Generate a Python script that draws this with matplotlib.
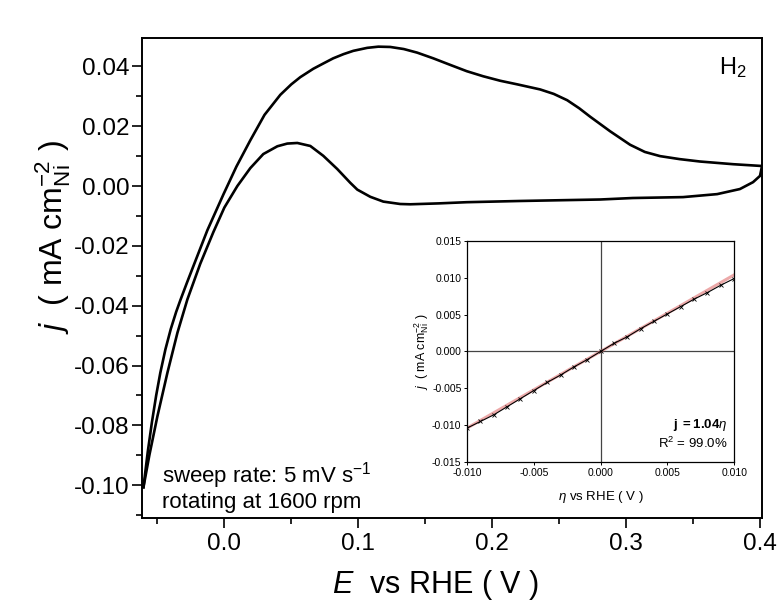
"""Cyclic voltammogram in H2 with a micro-polarisation inset."""

from matplotlib import pyplot as plt
from matplotlib.ticker import MultipleLocator, FuncFormatter
import numpy as np

plt.rcParams["font.family"] = ["Liberation Sans", "DejaVu Sans"]
plt.rcParams["mathtext.fontset"] = "custom"
plt.rcParams["mathtext.rm"] = "Liberation Sans"
plt.rcParams["mathtext.it"] = "Liberation Sans:italic"
plt.rcParams["mathtext.bf"] = "Liberation Sans:bold"

# anodic sweep (outer branch), E in V vs RHE, j in mA cm-2
E_FWD = [-0.0604, -0.0572, -0.0541, -0.0509, -0.0478, -0.0440, -0.0400, -0.0360,
         -0.0328, -0.0280, -0.0228, -0.0127, -0.0007, 0.0090, 0.0194, 0.0300,
         0.0418, 0.0500, 0.0567, 0.0664, 0.0740, 0.0813, 0.0890, 0.0963, 0.1067,
         0.1150, 0.1239, 0.1340, 0.1440, 0.1560, 0.1687, 0.1810, 0.1933, 0.2060,
         0.2187, 0.2358, 0.2460, 0.2560, 0.2650, 0.2731, 0.2881, 0.3030, 0.3140,
         0.3254, 0.3400, 0.3552, 0.3800, 0.4015]
J_FWD = [-0.1007, -0.0889, -0.0790, -0.0700, -0.0624, -0.0546, -0.0478, -0.0421,
         -0.0381, -0.0324, -0.0264, -0.0148, -0.0028, 0.0065, 0.0153, 0.0238,
         0.0305, 0.0340, 0.0364, 0.0392, 0.0410, 0.0427, 0.0441, 0.0452, 0.0462,
         0.0466, 0.0465, 0.0458, 0.0446, 0.0427, 0.0405, 0.0384, 0.0367, 0.0352,
         0.0340, 0.0323, 0.0308, 0.0287, 0.0260, 0.0232, 0.0183, 0.0138, 0.0114,
         0.0100, 0.0090, 0.0082, 0.0073, 0.0067]

# cathodic sweep (inner branch)
E_REV = [0.4015, 0.4000, 0.3948, 0.3850, 0.3680, 0.3425, 0.3050, 0.2806, 0.2560,
         0.2200, 0.1810, 0.1600, 0.1388, 0.1313, 0.1187, 0.1090, 0.0993, 0.0940,
         0.0843, 0.0739, 0.0642, 0.0545, 0.0470, 0.0396, 0.0291, 0.0194, 0.0097,
         0.0000, -0.0082, -0.0180, -0.0276, -0.0350, -0.0425, -0.0500, -0.0560,
         -0.0604]
J_REV = [0.0067, 0.0034, 0.0013, -0.0010, -0.0027, -0.0037, -0.0040, -0.0045,
         -0.0047, -0.0050, -0.0054, -0.0058, -0.0061, -0.0060, -0.0052, -0.0036,
         -0.0012, 0.0011, 0.0057, 0.0101, 0.0134, 0.0144, 0.0142, 0.0133, 0.0107,
         0.0060, 0.0000, -0.0072, -0.0154, -0.0260, -0.0379, -0.0490, -0.0624,
         -0.0770, -0.0900, -0.1007]

# inset: micro-polarisation data
ETA = [-0.010, -0.009, -0.008, -0.007, -0.006, -0.005, -0.004, -0.003, -0.002,
       -0.001, 0.000, 0.001, 0.002, 0.003, 0.004, 0.005, 0.006, 0.007, 0.008,
       0.009, 0.010]
J_ETA = [-0.0104, -0.0095, -0.0086, -0.0075, -0.0064, -0.0053, -0.0042, -0.0032,
         -0.0021, -0.0011, 0.0000, 0.0011, 0.0020, 0.0031, 0.0041, 0.0051, 0.0061,
         0.0071, 0.0080, 0.0090, 0.0099]
FIT_SLOPE = 1.04


def fmt(digits):
    # avoid "-0.00" for the zero tick
    return FuncFormatter(lambda v, p: f"{0.0 if abs(v) < 1e-9 else v:.{digits}f}")


fig = plt.figure(figsize=(7.81, 6.01), dpi=100)
ax = fig.add_axes([0.1818, 0.138, 0.7939, 0.7988])
ax.plot(E_FWD, J_FWD, color="black", lw=1.9)
ax.plot(E_REV, J_REV, color="black", lw=1.9)
ax.set_xlim(-0.0615, 0.4015)
ax.set_ylim(-0.111, 0.0495)
ax.xaxis.set_major_locator(MultipleLocator(0.1))
ax.xaxis.set_minor_locator(MultipleLocator(0.05))
ax.yaxis.set_major_locator(MultipleLocator(0.02))
ax.yaxis.set_minor_locator(MultipleLocator(0.01))
ax.xaxis.set_major_formatter(fmt(1))
ax.yaxis.set_major_formatter(fmt(2))
ax.tick_params(which="both", direction="out", labelsize=17.5, width=1.2)
ax.tick_params(which="major", length=7)
ax.tick_params(which="minor", length=4)
ax.tick_params(axis="y", pad=2)
ax.tick_params(axis="x", pad=4)
for s in ax.spines.values():
    s.set_linewidth(1.4)
ax.set_xlabel(r"$E$  vs RHE ( V )", fontsize=22)
ax.xaxis.set_label_coords(0.474, -0.105)
ax.set_ylabel(r"$j$  ( mA cm$^{-2}_{\rm Ni}$ )", fontsize=23)
ax.yaxis.set_label_coords(-0.112, 0.585)
ax.text(0.975, 0.965, r"H$_2$", transform=ax.transAxes, ha="right", va="top",
        fontsize=17)
ax.text(0.032, 0.075, r"sweep rate: 5 mV s$^{-1}$", transform=ax.transAxes,
        fontsize=16, va="baseline")
ax.text(0.032, 0.021, "rotating at 1600 rpm", transform=ax.transAxes,
        fontsize=16, va="baseline")

# inset
ins = fig.add_axes([0.598, 0.2313, 0.342, 0.3677])
ins.axvline(0, color="#444444", lw=0.9)
ins.axhline(0, color="#444444", lw=0.9)
eta_fit = np.array([ETA[0], ETA[-1]])
ins.plot(eta_fit, FIT_SLOPE * eta_fit, color="#e07070", lw=2.2, alpha=0.6)
ins.plot(ETA, J_ETA, color="black", lw=0.8, marker="x", ms=2.5, mew=0.6)
ins.set_xlim(-0.010, 0.010)
ins.set_ylim(-0.015, 0.015)
ins.set_xticks([-0.010, -0.005, 0.000, 0.005, 0.010])
ins.set_yticks([-0.015, -0.010, -0.005, 0.000, 0.005, 0.010, 0.015])
ins.xaxis.set_major_formatter(fmt(3))
ins.yaxis.set_major_formatter(fmt(3))
ins.tick_params(labelsize=7.5, length=2.5, width=0.7, pad=1.5)
for s in ins.spines.values():
    s.set_linewidth(0.9)
ins.set_xlabel(r"$\eta$ vs RHE ( V )", fontsize=9.5, labelpad=8)
ins.set_ylabel(r"$j$  ( mA cm$^{-2}_{\rm Ni}$ )", fontsize=9, labelpad=1)
ins.text(0.975, 0.154, r"$\mathbf{j}$ $\mathbf{= 1.04}$$\eta$",
         transform=ins.transAxes, ha="right", va="baseline", fontsize=9.5)
ins.text(0.975, 0.063, r"R$^2$ = 99.0%", transform=ins.transAxes, ha="right",
         va="baseline", fontsize=9.5)

fig.savefig("out.png", dpi=100)
